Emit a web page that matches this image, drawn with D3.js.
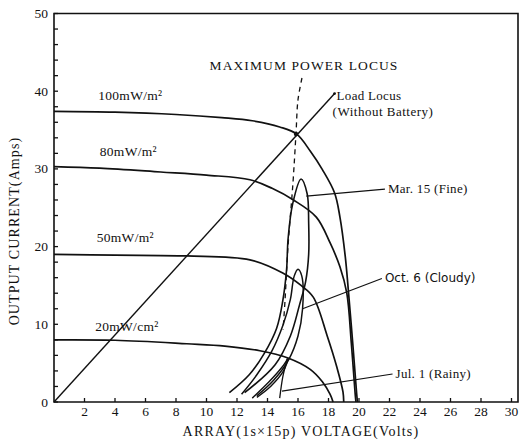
<!DOCTYPE html>
<html lang="en">
<head>
<meta charset="UTF-8">
<title>Array I-V characteristics</title>
<script src="https://d3js.org/d3.v7.min.js"></script>
<style>
    body, html { margin: 0; padding: 0; background: #fff; overflow: hidden; }
    svg text { font-family: "Liberation Serif", "DejaVu Serif", serif; fill: #111; }
</style>
</head>
<body>
<div id="chart"></div>
<script>
// I-V curves [volts, amps] for each irradiance level
const irr100 = [[0,37.4],[4,37.3],[8,37.0],[11,36.6],[13,36.2],[14.8,35.4],[15.9,34.5],[16.8,32.3],[17.6,29.9],[18.4,26.9],[18.75,23.8],[19.1,18.7],[19.3,14.4],[19.6,7.3],[19.85,1],[19.9,0]];
const irr80 = [[0,30.3],[3,30.1],[7,29.6],[10,29.2],[12.85,28.6],[14.3,27.5],[15.7,26.0],[17.2,23.8],[18.1,20.5],[18.75,17.4],[19.2,14],[19.5,7.5],[19.75,1],[19.8,0]];
const irr50 = [[0,19.0],[4,18.9],[8.7,18.8],[12.85,18.3],[15.0,16.6],[16.2,15.0],[17.0,13.5],[17.9,8.6],[18.56,4.4],[18.95,1.3],[19.0,0]];
const irr20 = [[0,8.0],[4,7.95],[8.7,7.5],[11.2,7.2],[13.5,6.6],[15.3,5.7],[16.8,4.2],[17.6,2.6],[18.1,1.0],[18.3,0]];
const curveLabels = ["100mW/m²", "80mW/m²", "50mW/m²", "20mW/cm²"];
const curveLabelAt = [[2.9,38.9],[3.0,31.6],[2.8,20.6],[2.7,9.2]];

// loci
const loadLocus = [[0,0],[18.4,39.7]];
const maxPowerLocus = [[16.26,41.7],[16.0,38.9],[15.87,34.6],[15.67,28.2],[15.34,19.9],[15.15,13.1],[15.02,9.3]];

// daily operating point trajectories
const mar15 = [[11.5,1.2],[12.8,3.5],[13.8,6.3],[14.6,9.5],[15.0,13],[15.25,17],[15.35,21],[15.65,25.5],[16.2,28.7],[16.6,26.8],[16.7,23],[16.7,19],[16.5,15.5],[16.1,12.5],[15.5,8.5],[14.5,4.8],[12.5,1.2]];
const oct6 = [[12.3,1.0],[13.3,3.5],[14.3,6.6],[15.0,9.8],[15.5,13.2],[15.75,16.2],[16.0,17.1],[16.25,16.2],[16.3,12.0],[16.0,8.5],[15.4,5.5],[14.4,2.8],[13.3,0.8]];
const jul1 = [[13.0,0.5],[14.1,2.6],[15.0,4.6],[15.35,5.6],[15.05,4.0],[14.2,2.0],[13.3,0.6]];
const jul1Tail = [[15.3,5.6],[15.0,3.2],[14.8,0.5]];

// label pointers
const marPointer = [[16.55,26.5],[21.7,27.4]];
const octPointer = [[16.3,12.0],[21.5,15.9]];
const julPointer = [[14.95,1.4],[22.2,3.6]];

const xTicks = d3.range(2, 31, 2);
const yTicks = [0, 10, 20, 30, 40, 50];
const yMinor = d3.range(0, 51, 2);

const width = 521, height = 440;
const x = d3.scaleLinear().domain([0, 30]).range([54, 511.5]);
const y = d3.scaleLinear().domain([0, 50]).range([402, 13.5]);

const svg = d3.select("#chart").append("svg")
    .attr("width", width)
    .attr("height", height);

// frame
const right = x(30) + 6.5;
svg.append("path")
    .attr("d", `M${x(0)},${y(50)}H${right}V${y(0)}H${x(0)}Z`)
    .attr("fill", "none").attr("stroke", "#111").attr("stroke-width", 1.6);

// ticks inside the frame
svg.append("g").selectAll("line").data(xTicks).join("line")
    .attr("x1", d => x(d)).attr("x2", d => x(d))
    .attr("y1", y(0)).attr("y2", y(0) - 4)
    .attr("stroke", "#111").attr("stroke-width", 1.3);
svg.append("g").selectAll("line").data(yMinor).join("line")
    .attr("x1", x(0)).attr("x2", x(0) + 4)
    .attr("y1", d => y(d)).attr("y2", d => y(d))
    .attr("stroke", "#111").attr("stroke-width", 1.3);

svg.append("g").selectAll("text").data(xTicks).join("text")
    .attr("x", d => x(d)).attr("y", y(0) + 14)
    .attr("text-anchor", "middle").style("font-size", "13.5px")
    .text(d => d);
svg.append("g").selectAll("text").data(yTicks).join("text")
    .attr("x", x(0) - 6).attr("y", d => y(d) + 4.5)
    .attr("text-anchor", "end").style("font-size", "13.5px")
    .text(d => d);

// axis titles
svg.append("text")
    .attr("x", 301).attr("y", 436)
    .attr("text-anchor", "middle").style("font-size", "14px")
    .attr("letter-spacing", "1.2px")
    .text("ARRAY(1s×15p) VOLTAGE(Volts)");
svg.append("text")
    .attr("transform", `translate(19,${y(22)}) rotate(-90)`)
    .attr("text-anchor", "middle").style("font-size", "14px")
    .attr("letter-spacing", "1.1px")
    .text("OUTPUT CURRENT(Amps)");

const line = d3.line()
    .x(d => x(d[0])).y(d => y(d[1]))
    .curve(d3.curveCatmullRom.alpha(0.5));
const straight = d3.line().x(d => x(d[0])).y(d => y(d[1]));

function draw(data, gen, w, dash) {
    svg.append("path")
        .datum(data)
        .attr("fill", "none")
        .attr("stroke", "#111")
        .attr("stroke-width", w)
        .attr("stroke-dasharray", dash || null)
        .attr("d", gen);
}

[irr100, irr80, irr50, irr20].forEach(c => draw(c, line, 1.7));
draw(loadLocus, straight, 1.4);
draw(maxPowerLocus, line, 1.3, "5,4");
draw(mar15, line, 1.6);
draw(oct6, line, 1.5);
draw(jul1, line, 1.4);
draw(jul1Tail, line, 1.3);
[marPointer, octPointer, julPointer].forEach(p => draw(p, straight, 1.2));

// dots at the load locus ends
svg.append("circle").attr("cx", x(15.87)).attr("cy", y(34.5)).attr("r", 2.2).attr("fill", "#111");
svg.append("circle").attr("cx", x(loadLocus[1][0])).attr("cy", y(loadLocus[1][1])).attr("r", 1.4).attr("fill", "#111");

// irradiance labels
svg.append("g").selectAll("text").data(curveLabels).join("text")
    .attr("x", (d, i) => x(curveLabelAt[i][0]))
    .attr("y", (d, i) => y(curveLabelAt[i][1]))
    .style("font-size", "13.5px")
    .attr("letter-spacing", "0.3px")
    .text(d => d);

// annotations
svg.append("text").attr("x", 304).attr("y", 70)
    .attr("text-anchor", "middle").style("font-size", "13.5px")
    .attr("letter-spacing", "1.1px")
    .text("MAXIMUM POWER LOCUS");
svg.append("text").attr("x", x(loadLocus[1][0]) + 2).attr("y", 100)
    .style("font-size", "13px").attr("letter-spacing", "0.3px").text("Load Locus");
svg.append("text").attr("x", x(loadLocus[1][0]) - 2).attr("y", 116)
    .style("font-size", "13px").attr("letter-spacing", "0.5px").text("(Without Battery)");
svg.append("text").attr("x", x(marPointer[1][0]) + 3).attr("y", y(marPointer[1][1]) + 4)
    .style("font-size", "13px").attr("letter-spacing", "0.3px").text("Mar. 15 (Fine)");
svg.append("text").attr("x", x(octPointer[1][0]) + 3).attr("y", y(octPointer[1][1]) + 4)
    .style("font-family", "'DejaVu Sans', sans-serif")
    .style("font-size", "12px").text("Oct. 6  (Cloudy)");
svg.append("text").attr("x", x(julPointer[1][0]) + 3).attr("y", y(julPointer[1][1]) + 4)
    .style("font-size", "13px").attr("letter-spacing", "0.3px").text("Jul. 1  (Rainy)");
</script>
</body>
</html>
